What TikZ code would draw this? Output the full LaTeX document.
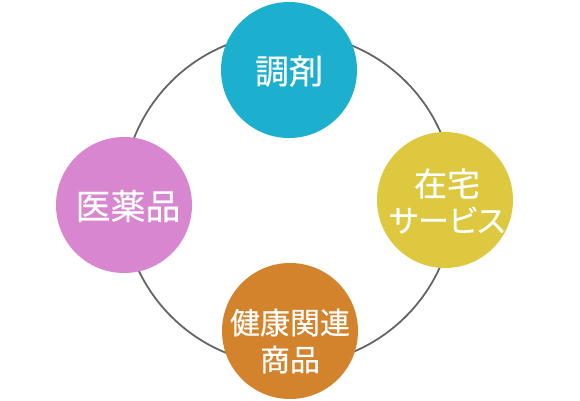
\documentclass[tikz,border=0pt]{standalone}
\usepackage{fontspec}
\setmainfont{Noto Sans CJK JP}[FakeBold=0.4]
\newfontfamily\jpp{Noto Sans CJK JP}[RawFeature=+palt,FakeBold=0.4]
\definecolor{cblue}{HTML}{1DB0CE}
\definecolor{cyellow}{HTML}{DEC83F}
\definecolor{cpink}{HTML}{D886D0}
\definecolor{corange}{HTML}{D4832D}
\definecolor{ring}{HTML}{666666}
\begin{document}
\begin{tikzpicture}[x=1pt,y=-1pt,
  bubble/.style={circle,minimum size=136pt,inner sep=0pt},
  label text/.style={text=white,align=center,inner sep=0pt},
  ringline/.style={draw=ring,line width=1.8pt}]
\useasboundingbox (0,0) rectangle (580,400);
\coordinate (ctr) at (288.5,199);
\draw[ringline] (ctr) circle[radius=166];
\node[bubble,fill=cblue] (a) at (289,70) {};
\node[label text,font=\fontsize{34}{38}\selectfont] (at) at (289,71) {調剤};
\node[bubble,fill=cyellow] (b) at (445,200) {};
\node[label text,font=\fontsize{33}{36}\selectfont] (bt) at (447,201) {在宅\\{\jpp\fontsize{31}{36}\selectfont サービス}};
\node[bubble,fill=cpink] (c) at (124,205) {};
\node[label text,font=\fontsize{35}{38}\selectfont] (ct) at (128,206) {医薬品};
\node[bubble,fill=corange] (d) at (290,331) {};
\node[label text,font=\fontsize{30}{37}\selectfont] (dt) at (290,341) {健康関連\\商品};
\end{tikzpicture}
\end{document}
